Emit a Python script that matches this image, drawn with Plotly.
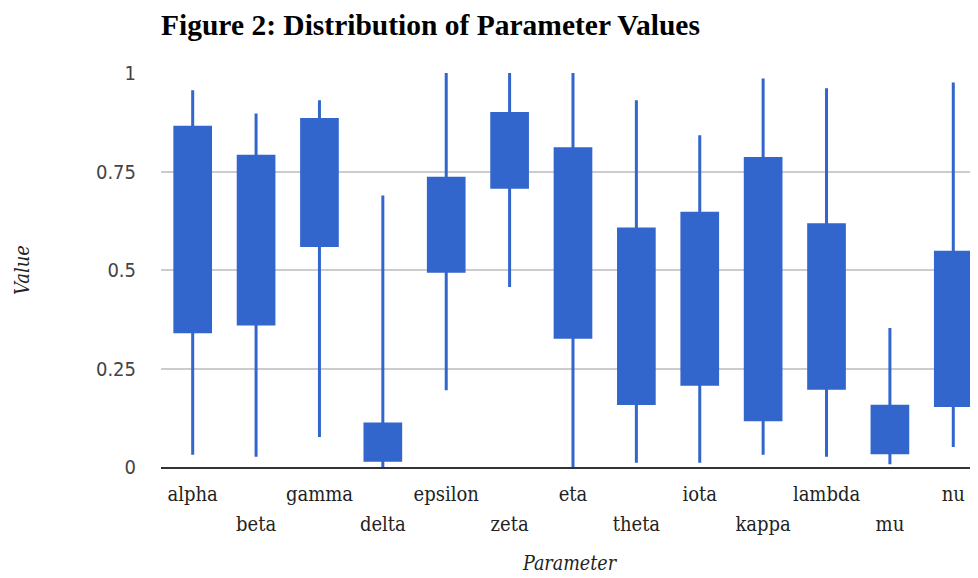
import plotly.graph_objects as go

params = ["alpha", "beta", "gamma", "delta", "epsilon", "zeta", "eta",
          "theta", "iota", "kappa", "lambda", "mu", "nu"]
low = [0.031, 0.026, 0.076, 0.0, 0.195, 0.457, 0.0, 0.011, 0.011, 0.031, 0.026, 0.007, 0.051]
q1 = [0.343, 0.363, 0.562, 0.017, 0.497, 0.710, 0.329, 0.161, 0.210, 0.120, 0.200, 0.036, 0.156]
q3 = [0.862, 0.789, 0.882, 0.109, 0.733, 0.897, 0.808, 0.604, 0.644, 0.783, 0.615, 0.154, 0.545]
high = [0.956, 0.897, 0.931, 0.689, 1.0, 1.0, 1.0, 0.931, 0.842, 0.986, 0.961, 0.353, 0.976]
yticks = [0, 0.25, 0.5, 0.75, 1]
yticklabels = ["0", "0.25", "0.5", "0.75", "1"]

idx = list(range(len(params)))
BLUE = "#3366cc"
SERIF = "DejaVu Serif Condensed, DejaVu Serif, serif"
SANS = "DejaVu Sans Condensed, DejaVu Sans, sans-serif"

fig = go.Figure()
fig.add_trace(go.Candlestick(
    x=idx, open=q1, close=q3, low=low, high=high,
    increasing=dict(line=dict(color=BLUE, width=3), fillcolor=BLUE),
    decreasing=dict(line=dict(color=BLUE, width=3), fillcolor=BLUE),
    whiskerwidth=0, showlegend=False, hoverinfo="skip",
))
# invisible carrier trace so the second (staggered-label) x axis is drawn
fig.add_trace(go.Scatter(x=idx, y=low, xaxis="x2", mode="markers",
                         marker=dict(opacity=0), showlegend=False, hoverinfo="skip"))

xr = [-0.5, 12.39]
fig.update_layout(
    width=978, height=578,
    margin=dict(l=153, r=8, t=65, b=119),
    paper_bgcolor="white", plot_bgcolor="white",
    boxgap=0.437, boxgroupgap=0,
    title=dict(text="<b>Figure 2: Distribution of Parameter Values</b>",
               font=dict(family="Liberation Serif, serif", size=29.5, color="#000"),
               x=0, xref="paper", xanchor="left",
               y=1 - 16.5 / 578, yref="container", yanchor="middle"),
    xaxis=dict(range=xr, tickmode="array", tickvals=idx[0::2], ticktext=params[0::2],
               showgrid=False, zeroline=False, rangeslider=dict(visible=False),
               showline=True, linecolor="#333333", linewidth=2, ticks="",
               ticklabelstandoff=8,
               tickfont=dict(family=SERIF, size=20, color="#222")),
    xaxis2=dict(range=xr, overlaying="x", anchor="y", side="bottom",
                tickmode="array", tickvals=idx[1::2], ticktext=params[1::2],
                showgrid=False, zeroline=False, showline=False, ticks="",
                ticklabelstandoff=43,
                tickfont=dict(family=SERIF, size=20, color="#222"),
                title=dict(text="<i>Parameter</i>", standoff=21,
                           font=dict(family=SERIF, size=19.5, color="#222"))),
    yaxis=dict(range=[0, 1], tickmode="array", tickvals=yticks, ticktext=yticklabels,
               showgrid=True, gridcolor="#cccccc", gridwidth=1.5, zeroline=False,
               ticks="", ticklabelstandoff=24,
               tickfont=dict(family=SANS, size=20, color="#444"),
               title=dict(text="<i>Value</i>", standoff=60,
                          font=dict(family=SERIF, size=20, color="#222"))),
)

fig.write_html("out.html")
